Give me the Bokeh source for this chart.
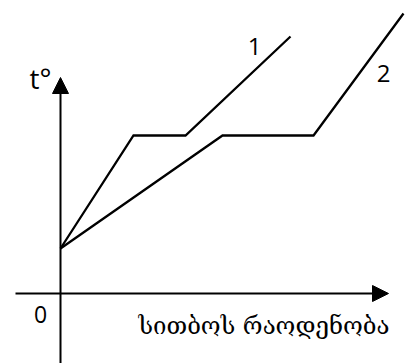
from bokeh.plotting import figure
from bokeh.models import Range1d, Arrow, NormalHead
from bokeh.core.properties import value
from bokeh.embed import file_html
from bokeh.resources import INLINE

# heat quantity (x) and temperature (y) for the two substances
q1 = [0, 7.3, 12.5, 23.0]
t1 = [4.5, 15.8, 15.8, 25.7]
q2 = [0, 16.2, 25.3, 34.3]
t2 = [4.5, 15.8, 15.8, 28.0]

curve_labels = ["1", "2"]
curve_label_x = [19.4, 32.3]
curve_label_y = [24.7, 22.0]

y_axis_label = "t°"
x_axis_label = "სითბოს რაოდენობა"
origin_label = "0"

p = figure(width=406, height=363, output_backend="svg", toolbar_location=None,
           x_range=Range1d(-6.0, 34.6), y_range=Range1d(-7.0, 29.3),
           min_border=0, outline_line_color=None)
p.axis.visible = False
p.grid.visible = False
p.background_fill_color = "white"
p.border_fill_color = "white"

# axes with arrow heads
p.add_layout(Arrow(end=NormalHead(size=16, fill_color="black", line_color="black", line_width=1),
                   x_start=-4.5, y_start=0, x_end=32.8, y_end=0,
                   line_width=2, line_color="black"))
p.add_layout(Arrow(end=NormalHead(size=16, fill_color="black", line_color="black", line_width=1),
                   x_start=0, y_start=-8.0, x_end=0, y_end=21.6,
                   line_width=2, line_color="black"))

p.line(q1, t1, line_width=2.3, line_color="black", line_join="miter")
p.line(q2, t2, line_width=2.3, line_color="black", line_join="miter")

p.text(x=curve_label_x, y=curve_label_y, text=curve_labels,
       text_font=value("Open Sans"), text_font_size="24px",
       text_align="center", text_baseline="middle", text_color="black")
p.text(x=[-2.0], y=[21.6], text=[y_axis_label],
       text_font=value("Open Sans"), text_font_size="28px",
       text_align="center", text_baseline="middle", text_color="black")
p.text(x=[-2.0], y=[-2.1], text=[origin_label],
       text_font=value("Open Sans"), text_font_size="23px",
       text_align="center", text_baseline="middle", text_color="black")
p.text(x=[7.8], y=[-3.2], text=[x_axis_label],
       text_font=value("DejaVu Serif"), text_font_size="24px",
       text_align="left", text_baseline="middle", text_color="black")

open("out.html", "w").write(file_html(p, INLINE))
